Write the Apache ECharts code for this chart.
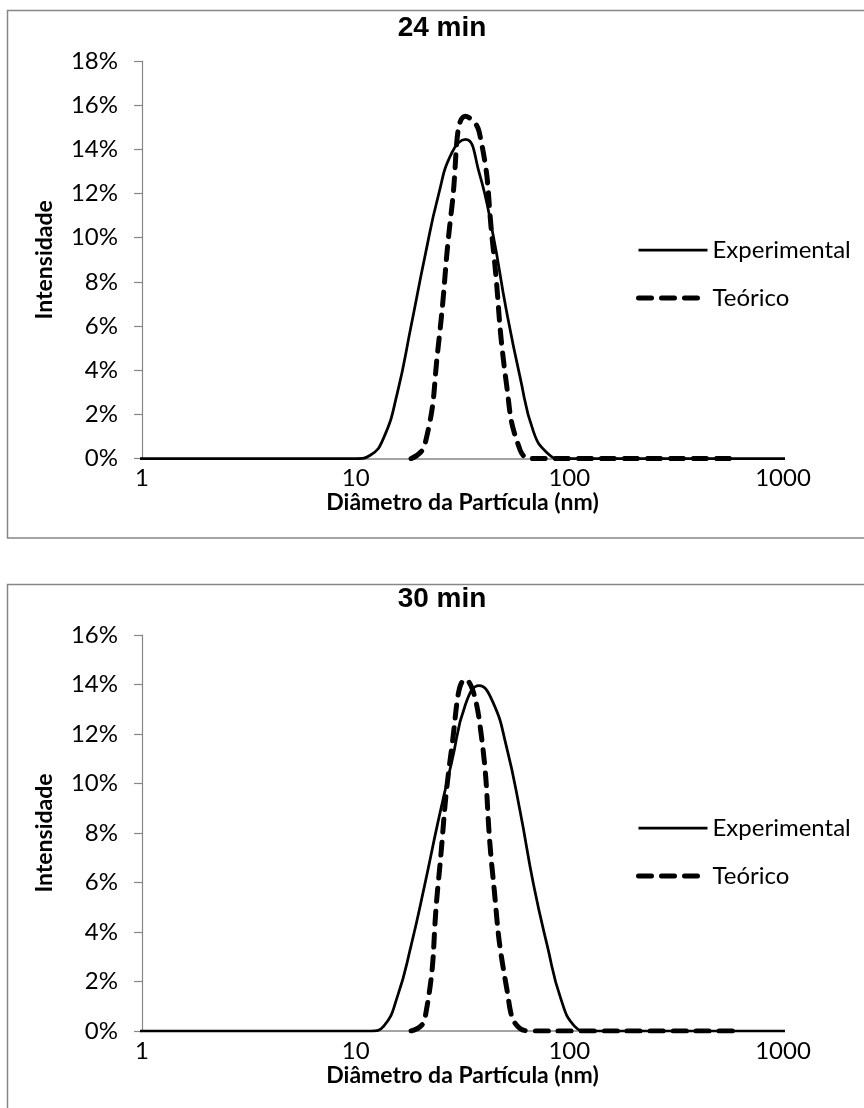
<!DOCTYPE html>
<html>
<head>
<meta charset="utf-8">
<script src="https://cdn.jsdelivr.net/npm/echarts@6/dist/echarts.min.js"></script>
<style>
  html, body { margin: 0; padding: 0; background: #fff; }
  #chart { width: 864px; height: 1108px; }
</style>
</head>
<body>
<div id="chart"></div>
<script>
// Particle diameter bins (nm), log-spaced
const binsNm = [0.9649, 1.117, 1.294, 1.499, 1.736, 2.01, 2.328, 2.696, 3.122, 3.615,
  4.187, 4.849, 5.615, 6.503, 7.531, 8.721, 10.1, 11.7, 13.54, 15.69,
  18.17, 21.04, 24.36, 28.21, 32.67, 37.84, 43.82, 50.75, 58.77, 68.06,
  78.82, 91.28, 105.7, 122.4, 141.8, 164.2, 190.1, 220.2, 255, 295.3,
  342, 396.1, 458.7, 531.2, 615.1, 712.4, 825, 955.4, 1106];

// Intensity (%) at 24 min
const exp24 = [0, 0, 0, 0, 0, 0, 0, 0, 0, 0,
  0, 0, 0, 0, 0, 0, 0, 0.15, 0.95, 3.0,
  6.0, 9.1, 11.9, 13.85, 14.45, 12.95, 10.2, 6.7, 3.7, 1.2,
  0.25, 0, 0, 0, 0, 0, 0, 0, 0, 0,
  0, 0, 0, 0, 0, 0, 0, 0, 0];
const teo24 = [null, null, null, null, null, null, null, null, null, null,
  null, null, null, null, null, null, null, null, null, null,
  0, 0.6, 5.1, 11.4, 15.5, 14.8, 9.7, 3.4, 0.4, 0,
  0, 0, 0, 0, 0, 0, 0, 0, 0, 0,
  0, 0, 0, 0, 0, null, null, null, null];

// Intensity (%) at 30 min
const exp30 = [0, 0, 0, 0, 0, 0, 0, 0, 0, 0,
  0, 0, 0, 0, 0, 0, 0, 0, 0.2, 1.4,
  3.45, 5.9, 8.5, 10.9, 13.2, 13.95, 13.3, 11.5, 8.9, 5.9,
  3.45, 1.3, 0.2, 0, 0, 0, 0, 0, 0, 0,
  0, 0, 0, 0, 0, 0, 0, 0, 0];
const teo30 = [null, null, null, null, null, null, null, null, null, null,
  null, null, null, null, null, null, null, null, null, null,
  0, 0.45, 6.0, 11.5, 14.2, 12.6, 6.3, 1.8, 0.1, 0,
  0, 0, 0, 0, 0, 0, 0, 0, 0, 0,
  0, 0, 0, 0, 0, null, null, null, null];

const panelTitles = ['24 min', '30 min'];
const yMax = [18, 16];
const xTitle = 'Diâmetro da Partícula (nm)';
const yTitle = 'Intensidade';
const seriesNames = ['Experimental', 'Teórico'];

const pair = (ys) => binsNm.map((x, i) => [x, ys[i]]);

const FONT = 'Lato';
const GRAY = '#868686';

const grids = [
  { left: 142, top: 61, width: 641, height: 397.6 },
  { left: 142, top: 635, width: 641, height: 396 }
];

const xAxes = grids.map((g, i) => ({
  type: 'log', logBase: 10, min: 1, max: 1000, gridIndex: i,
  name: xTitle, nameLocation: 'middle', nameGap: 30,
  nameTextStyle: { fontFamily: FONT, fontWeight: 'bold', fontSize: 23, color: '#000' },
  axisLine: { lineStyle: { color: GRAY, width: 1.5 } },
  axisTick: { show: false },
  splitLine: { show: false },
  axisLabel: { fontFamily: FONT, fontSize: 24, color: '#000', margin: 8, formatter: (v) => String(v) }
}));

const yAxes = grids.map((g, i) => ({
  type: 'value', min: 0, max: yMax[i], interval: 2, gridIndex: i,
  name: yTitle, nameLocation: 'middle', nameRotate: 90, nameGap: 86,
  nameTextStyle: { fontFamily: FONT, fontWeight: 'bold', fontSize: 23, color: '#000' },
  axisLine: { show: true, lineStyle: { color: GRAY, width: 1.2 } },
  axisTick: { show: true, length: 8, lineStyle: { color: GRAY, width: 1.2 } },
  splitLine: { show: false },
  axisLabel: { fontFamily: FONT, fontSize: 24, color: '#000', margin: 24, formatter: '{value}%' }
}));

const solidStyle = { color: '#000', width: 2.75, type: 'solid' };
const dashStyle = { color: '#000', width: 5, type: [13, 10], cap: 'round' };

function lineSeries(name, ys, idx, style) {
  return {
    name, type: 'line', xAxisIndex: idx, yAxisIndex: idx,
    data: pair(ys), smooth: 0.5, showSymbol: false, symbol: 'none',
    lineStyle: style, itemStyle: { color: '#000' }, clip: true, z: style.type === 'solid' ? 2 : 3,
    emphasis: { disabled: true }
  };
}

const series = [
  lineSeries(seriesNames[0], exp24, 0, solidStyle),
  lineSeries(seriesNames[1], teo24, 0, dashStyle),
  lineSeries(seriesNames[0], exp30, 1, solidStyle),
  lineSeries(seriesNames[1], teo30, 1, dashStyle)
];

// Legend shows only the line sample (no marker)
const legends = [233, 811].map(top => ({
  data: seriesNames, orient: 'vertical', left: 631, top,
  itemWidth: 69, itemHeight: 24, itemGap: 24,
  itemStyle: { opacity: 0 },
  lineStyle: { width: 'inherit' },
  textStyle: { fontFamily: FONT, fontSize: 24, color: '#000' },
  selectedMode: false
}));

const chart = echarts.init(document.getElementById('chart'), null, { renderer: 'canvas' });
chart.setOption({
  animation: false,
  backgroundColor: '#fff',
  grid: grids,
  xAxis: xAxes,
  yAxis: yAxes,
  legend: legends,
  series,
  graphic: [
    { type: 'rect', shape: { x: 7.5, y: 10.5, width: 900, height: 527.5 },
      style: { fill: 'none', stroke: GRAY, lineWidth: 1.5 }, z: -1 },
    { type: 'rect', shape: { x: 7.5, y: 584.5, width: 900, height: 560 },
      style: { fill: 'none', stroke: GRAY, lineWidth: 1.5 }, z: -1 },
    { type: 'text', x: 442, y: 28, style: { text: panelTitles[0], font: 'bold 28px "Liberation Sans", Arial, sans-serif', fill: '#000', align: 'center', verticalAlign: 'middle' } },
    { type: 'text', x: 442, y: 599, style: { text: panelTitles[1], font: 'bold 28px "Liberation Sans", Arial, sans-serif', fill: '#000', align: 'center', verticalAlign: 'middle' } }
  ]
});
</script>
</body>
</html>
